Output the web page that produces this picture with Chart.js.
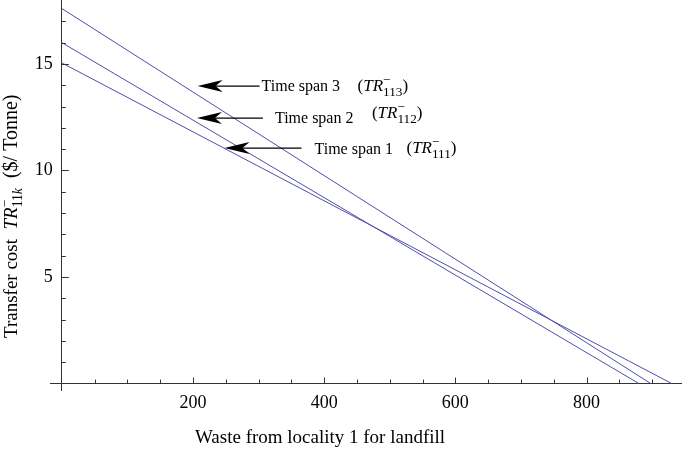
<!DOCTYPE html>
<html><head><meta charset="utf-8">
<script src="https://cdn.jsdelivr.net/npm/chart.js@4.4.1/dist/chart.umd.min.js"></script>
<style>html,body{margin:0;padding:0;background:#fff;}canvas{display:block;}</style>
</head><body>
<canvas id="c" width="685" height="450"></canvas>
<script>
// ---- data ----
const seriesNames = ['Time span 1', 'Time span 2', 'Time span 3'];
const span1X = [0, 930];
const span1Y = [15.05, 0];
const span2X = [0, 880];
const span2Y = [16.0, 0];
const span3X = [0, 898];
const span3Y = [17.6, 0];
const xMajorTicks = [200, 400, 600, 800];
const yMajorTicks = [5, 10, 15];
const xTitle = 'Waste from locality 1 for landfill';
const subscripts = ['111', '112', '113'];

const FONT = '"Liberation Serif", "Times New Roman", serif';
const LINE = 'rgb(78,78,168)';
const AXIS = '#333';

function pts(xs, ys) { return xs.map((x, i) => ({x: x, y: ys[i]})); }

function drawPiece(ctx, x, y, p, base) {
  const size = (p.size || base) * (p.sc || 1);
  ctx.font = (p.it ? 'italic ' : '') + size + 'px ' + FONT;
  ctx.fillText(p.t, x, y + (p.dy || 0) * base);
  return ctx.measureText(p.t).width;
}
function drawRuns(ctx, x, y, runs, base) {
  let cx = x;
  for (const r of runs) {
    if (r.stack) {
      let w = 0;
      for (const seq of r.stack) {
        let sx = cx;
        for (const p of seq) sx += drawPiece(ctx, sx, y, p, base);
        w = Math.max(w, sx - cx);
      }
      cx += w;
    } else {
      cx += drawPiece(ctx, cx, y, r, base);
    }
  }
  return cx - x;
}
function trLabel(sub) {
  return [
    {t: '('},
    {t: 'TR', it: true},
    {stack: [[{t: '\u2212', sc: 0.78, dy: -0.42}], [{t: sub, sc: 0.78, dy: 0.28}]]},
    {t: ')'}
  ];
}

// annotation layout: tip in data coordinates, other parts as pixel offsets
const annotations = [
  {tipX: 207, tipY: 13.96, tail: 62, tx: 64, ty: 5, px: 160, py: 5, name: seriesNames[2], sub: subscripts[2]},
  {tipX: 206, tipY: 12.46, tail: 66, tx: 78, ty: 5, px: 175, py: 0, name: seriesNames[1], sub: subscripts[1]},
  {tipX: 248, tipY: 11.05, tail: 77, tx: 90, ty: 6, px: 182, py: 5, name: seriesNames[0], sub: subscripts[0]}
];

const decor = {
  id: 'decor',
  afterDraw(chart) {
    const ctx = chart.ctx;
    const xs = chart.scales.x, ys = chart.scales.y;
    const ax = xs.getPixelForValue(0), ay = ys.getPixelForValue(0);
    ctx.save();
    ctx.strokeStyle = AXIS;
    ctx.lineWidth = 1;
    ctx.beginPath();
    for (let v = 50; v <= 900; v += 50) {
      const px = Math.round(xs.getPixelForValue(v)) + 0.5;
      const len = (v % 200 === 0) ? 6 : 4;
      ctx.moveTo(px, ay); ctx.lineTo(px, ay - len);
    }
    for (let v = 1; v <= 17; v += 1) {
      const py = Math.round(ys.getPixelForValue(v)) + 0.5;
      const len = (v % 5 === 0) ? 7 : 4;
      ctx.moveTo(ax, py); ctx.lineTo(ax + len, py);
    }
    ctx.stroke();

    ctx.fillStyle = '#000';
    ctx.textBaseline = 'alphabetic';
    // x title
    ctx.font = '19px ' + FONT;
    ctx.textAlign = 'center';
    ctx.fillText(xTitle, 320, 443);
    ctx.textAlign = 'left';
    // y title
    ctx.save();
    ctx.translate(17, 338);
    ctx.rotate(-Math.PI / 2);
    drawRuns(ctx, 0, 0, [
      {t: 'Transfer cost  '},
      {t: 'TR', it: true},
      {stack: [[{t: '\u2212', sc: 0.72, dy: -0.42}], [{t: '11', sc: 0.72, dy: 0.28}, {t: 'k', it: true, sc: 0.72, dy: 0.28}]]},
      {t: '  ($/ Tonne)', size: 20}
    ], 19);
    ctx.restore();

    // annotations
    for (const a of annotations) {
      const tx = xs.getPixelForValue(a.tipX), ty = ys.getPixelForValue(a.tipY);
      ctx.strokeStyle = '#000';
      ctx.lineWidth = 1.2;
      ctx.beginPath();
      ctx.moveTo(tx + 18, ty); ctx.lineTo(tx + a.tail, ty);
      ctx.stroke();
      ctx.beginPath();
      ctx.moveTo(tx, ty);
      ctx.lineTo(tx + 25, ty - 6);
      ctx.lineTo(tx + 18, ty);
      ctx.lineTo(tx + 25, ty + 6);
      ctx.closePath();
      ctx.fillStyle = '#000';
      ctx.fill();
      ctx.font = '16px ' + FONT;
      ctx.fillText(a.name, tx + a.tx, ty + a.ty);
      drawRuns(ctx, tx + a.px, ty + a.py, trLabel(a.sub), 17);
    }
    ctx.restore();
  }
};

const lineDs = (label, xs, ys) => ({
  label: label, data: pts(xs, ys), showLine: true, borderColor: LINE, borderWidth: 1,
  pointRadius: 0, fill: false, tension: 0
});

new Chart(document.getElementById('c'), {
  type: 'scatter',
  data: {
    datasets: [
      lineDs(seriesNames[0], span1X, span1Y),
      lineDs(seriesNames[1], span2X, span2Y),
      lineDs(seriesNames[2], span3X, span3Y)
    ]
  },
  options: {
    responsive: false,
    animation: false,
    devicePixelRatio: 1,
    layout: {padding: {left: 50, right: 4, top: 0, bottom: 60}},
    plugins: {legend: {display: false}, tooltip: {enabled: false}},
    scales: {
      x: {
        type: 'linear', min: -18, max: 944, position: {y: 0},
        grid: {display: false, drawTicks: false},
        border: {display: true, color: AXIS, width: 1},
        afterBuildTicks: s => { s.ticks = xMajorTicks.map(v => ({value: v})); },
        afterFit: s => { s.paddingLeft = 0; s.paddingRight = 0; },
        ticks: {color: '#000', font: {family: FONT, size: 18}, padding: 9, maxRotation: 0, autoSkip: false}
      },
      y: {
        type: 'linear', min: -0.3, max: 18, position: {x: 0},
        grid: {display: false, drawTicks: false},
        border: {display: true, color: AXIS, width: 1},
        afterBuildTicks: s => { s.ticks = yMajorTicks.map(v => ({value: v})); },
        afterFit: s => { s.paddingTop = 0; s.paddingBottom = 0; },
        ticks: {color: '#000', font: {family: FONT, size: 18}, autoSkip: false,
                callback: v => v + '\u2002'}
      }
    }
  },
  plugins: [decor]
});
</script>
</body></html>
